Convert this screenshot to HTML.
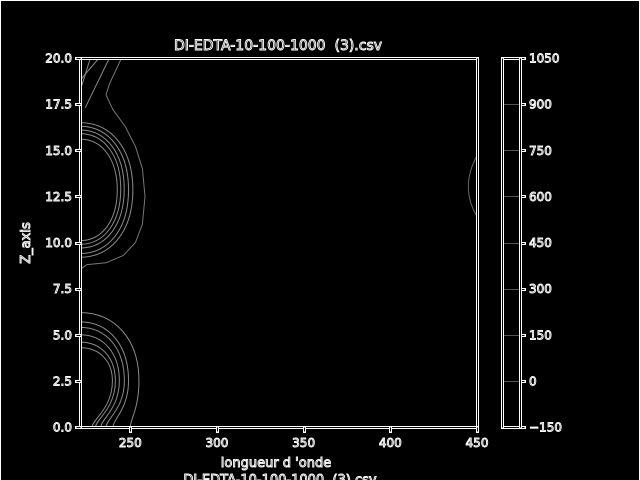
<!DOCTYPE html>
<html><head><meta charset="utf-8"><style>
html,body{margin:0;padding:0;background:#000;}
svg{display:block;}
text{font-family:"DejaVu Sans","Liberation Sans",sans-serif;fill:#000;stroke:#fff;stroke-width:0.9px;white-space:pre;}
</style></head><body>
<svg width="640" height="480" viewBox="0 0 640 480">
<rect x="0.5" y="0.5" width="639" height="485" fill="none" stroke="#fff" stroke-width="1"/>
<g id="plot"></g>
<g id="cb"></g>
<text x="278" y="50" font-size="14" text-anchor="middle">DI-EDTA-10-100-1000  (3).csv</text>
<text x="276" y="467" font-size="13" text-anchor="middle">longueur d 'onde</text>
<text x="280" y="484" font-size="13" text-anchor="middle">DI-EDTA-10-100-1000  (3).csv</text>
<text x="0" y="0" font-size="13" text-anchor="middle" transform="translate(30,243) rotate(-90)">Z_axis</text>
</svg>
<script>
const xTicks=[250,300,350,400,450];
const yTicks=[0,2.5,5,7.5,10,12.5,15,17.5,20];
const yTickLabels=["0.0","2.5","5.0","7.5","10.0","12.5","15.0","17.5","20.0"];
const cbTicks=[-150,0,150,300,450,600,750,900,1050];
const cbLabels=["\u2212150","0","150","300","450","600","750","900","1050"];
const upperTop=[16.5,16.3,16.1,15.9,15.6];
const upperBottom=[9.2,9.4,9.7,9.9,10.1];
const upperMax=[251.5,249,246.5,244.5,242.5];
const outerUpper=[[245,20],[238,18.6],[236,18],[240,17.2],[247,16.3],[253,15.2],[257,14],[258.5,12.5],[257,11],[253,10],[246,9.3],[236,8.9],[225,8.8],[222,8.6]];
const lowerTop=[6.2,5.7,5.4,5.0,4.6,4.3];
const lowerMax=[255,249,246.6,243.7,241.4,239.7];
const lowerBase=[250,240,236,233,230,228];
const cornerLines=[[[222,18.5],[227,20]],[[222,18.9],[232,20]],[[224,17.3],[238,20]]];
const rightArc=[[450,14.7],[443,13],[450,11.4]];
const X0=80,X1=477,Y0=427,Y1=58,XMIN=221,XMAX=450,YMIN=0,YMAX=20;
const sx=v=>X0+(v-XMIN)/(XMAX-XMIN)*(X1-X0);
const sy=v=>Y0-(v-YMIN)/(YMAX-YMIN)*(Y0-Y1);
const NS='http://www.w3.org/2000/svg';
const plot=document.getElementById('plot'),cbg=document.getElementById('cb');
function mk(tag,attrs,parent){const e=document.createElementNS(NS,tag);for(const k in attrs)e.setAttribute(k,attrs[k]);parent.appendChild(e);return e;}
function dline(x1,y1,x2,y2,parent,name){
 x1=Math.round(x1)+0.5;x2=Math.round(x2)+0.5;y1=Math.round(y1)+0.5;y2=Math.round(y2)+0.5;
 const a=mk('line',{x1,y1,x2,y2,stroke:'#fff','stroke-width':3,'stroke-linecap':'square'},parent);
 
 
 const b=mk('line',{x1,y1,x2,y2,stroke:'#000','stroke-width':1},parent);
 
 
}
const cstroke='#8a8a8a';
upperTop.forEach((t,i)=>{
 const b=upperBottom[i],m=upperMax[i],zc=(t+b)/2,h=(t-b)/2;
 const d=`M${sx(XMIN)},${sy(t)} C${sx(XMIN+(m-XMIN)*0.6)},${sy(t)} ${sx(m)},${sy(zc+h*0.6)} ${sx(m)},${sy(zc)} C${sx(m)},${sy(zc-h*0.6)} ${sx(XMIN+(m-XMIN)*0.6)},${sy(b)} ${sx(XMIN)},${sy(b)}`;
 const p=mk('path',{d,fill:'none',stroke:cstroke,'stroke-width':1},plot);
 
 
});
{const d='M'+outerUpper.map(q=>sx(q[0])+','+sy(q[1])).join(' L');
 const p=mk('path',{d,fill:'none',stroke:'#777','stroke-width':1,'stroke-linejoin':'round'},plot);
 
 }
lowerTop.forEach((t,i)=>{
 const m=lowerMax[i],b=lowerBase[i],zc=2.5;
 const d=`M${sx(XMIN)},${sy(t)} C${sx(XMIN+(m-XMIN)*0.6)},${sy(t)} ${sx(m)},${sy(zc+(t-zc)*0.6)} ${sx(m)},${sy(zc)} C${sx(m)},${sy(1)} ${sx(b)},${sy(0.4)} ${sx(b)},${sy(0)}`;
 const p=mk('path',{d,fill:'none',stroke:cstroke,'stroke-width':1},plot);
 
 
});
cornerLines.forEach(l=>{
 const p=mk('path',{d:'M'+l.map(q=>sx(q[0])+','+sy(q[1])).join(' L'),fill:'none',stroke:cstroke,'stroke-width':1},plot);
 
 
});
{const a=rightArc;
 const p=mk('path',{d:`M${sx(a[0][0])},${sy(a[0][1])} Q${sx(a[1][0]-3)},${sy(a[1][1])} ${sx(a[2][0])},${sy(a[2][1])}`,fill:'none',stroke:'#666','stroke-width':1},plot);
 
 }
dline(X0,Y1,X1,Y1,plot,'top-spine');dline(X0,Y0,X1,Y0,plot,'bottom-spine');
dline(X0,Y1,X0,Y0,plot,'left-spine');dline(X1,Y1,X1,Y0,plot,'right-spine');
xTicks.forEach(v=>{
 dline(sx(v),Y0,sx(v),Y0+4,plot,'x-tick');
 const t=mk('text',{x:sx(v),y:Y0+20,'font-size':12,'text-anchor':'middle'},plot);t.textContent=v;
 
 
});
yTicks.forEach((v,i)=>{
 dline(X0-4,sy(v),X0,sy(v),plot,'y-tick');
 const t=mk('text',{x:X0-8,y:sy(v)+4.5,'font-size':12,'text-anchor':'end'},plot);t.textContent=yTickLabels[i];
 
 
});
const CX0=502,CX1=520,CMIN=-150,CMAX=1050;
const cy=v=>Y0-(v-CMIN)/(CMAX-CMIN)*(Y0-Y1);
cbTicks.forEach((v,i)=>{
 if(v>CMIN&&v<CMAX){const l=mk('line',{x1:CX0,x2:CX1,y1:Math.round(cy(v))+0.5,y2:Math.round(cy(v))+0.5,stroke:'#555','stroke-width':1},cbg);
 
 }
 dline(CX1,cy(v),CX1+4,cy(v),cbg,'colorbar-tick');
 const t=mk('text',{x:CX1+9,y:cy(v)+4.5,'font-size':12},cbg);t.textContent=cbLabels[i];
 
 
});
dline(CX0,Y1,CX1,Y1,cbg,'colorbar-top');dline(CX0,Y0,CX1,Y0,cbg,'colorbar-bottom');
dline(CX0,Y1,CX0,Y0,cbg,'colorbar-left');dline(CX1,Y1,CX1,Y0,cbg,'colorbar-right');
</script>
</body></html>
